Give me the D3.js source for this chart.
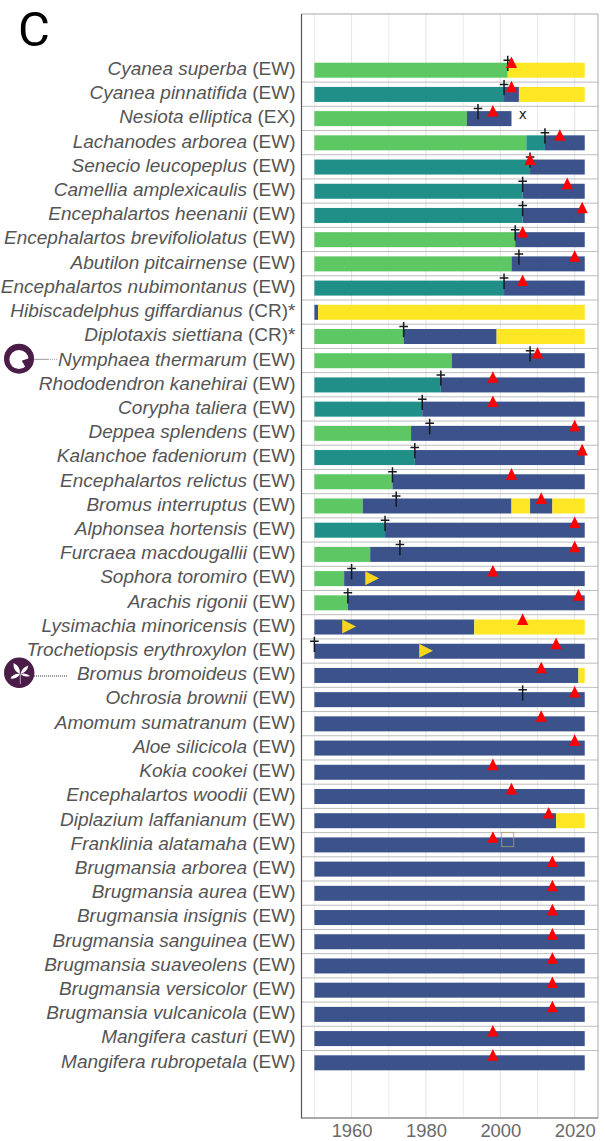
<!DOCTYPE html>
<html><head><meta charset="utf-8">
<script src="https://cdn.jsdelivr.net/npm/d3@7"></script>
<style>html,body{margin:0;padding:0;background:#fff}svg{display:block}</style></head>
<body><svg id="c" width="605" height="1141"></svg>
<script>
const species=["Cyanea superba","Cyanea pinnatifida","Nesiota elliptica","Lachanodes arborea","Senecio leucopeplus","Camellia amplexicaulis","Encephalartos heenanii","Encephalartos brevifoliolatus","Abutilon pitcairnense","Encephalartos nubimontanus","Hibiscadelphus giffardianus","Diplotaxis siettiana","Nymphaea thermarum","Rhododendron kanehirai","Corypha taliera","Deppea splendens","Kalanchoe fadeniorum","Encephalartos relictus","Bromus interruptus","Alphonsea hortensis","Furcraea macdougallii","Sophora toromiro","Arachis rigonii","Lysimachia minoricensis","Trochetiopsis erythroxylon","Bromus bromoideus","Ochrosia brownii","Amomum sumatranum","Aloe silicicola","Kokia cookei","Encephalartos woodii","Diplazium laffanianum","Franklinia alatamaha","Brugmansia arborea","Brugmansia aurea","Brugmansia insignis","Brugmansia sanguinea","Brugmansia suaveolens","Brugmansia versicolor","Brugmansia vulcanicola","Mangifera casturi","Mangifera rubropetala"];
const status=["(EW)","(EW)","(EX)","(EW)","(EW)","(EW)","(EW)","(EW)","(EW)","(EW)","(CR)*","(CR)*","(EW)","(EW)","(EW)","(EW)","(EW)","(EW)","(EW)","(EW)","(EW)","(EW)","(EW)","(EW)","(EW)","(EW)","(EW)","(EW)","(EW)","(EW)","(EW)","(EW)","(EW)","(EW)","(EW)","(EW)","(EW)","(EW)","(EW)","(EW)","(EW)","(EW)"];
// state codes and the year each state ends, per species
const G="g",T="t",B="b",Y="y",END=2022.7;
const segments=[[[G,2002],[Y,END]],[[T,2001],[B,2005],[Y,END]],[[G,1991],[B,2003]],[[G,2007],[T,2012],[B,END]],[[T,2008],[B,END]],[[T,2006],[B,END]],[[T,2006],[B,END]],[[G,2004],[B,END]],[[G,2003],[B,END]],[[T,2001],[B,END]],[[B,1951],[Y,END]],[[G,1974],[B,1999],[Y,END]],[[G,1987],[B,END]],[[T,1984],[B,END]],[[T,1979],[B,END]],[[G,1976],[B,END]],[[T,1977],[B,END]],[[G,1971],[B,END]],[[G,1963],[B,2003],[Y,2008],[B,2014],[Y,END]],[[T,1969],[B,END]],[[G,1965],[B,END]],[[G,1958],[B,END]],[[G,1959],[B,END]],[[B,1993],[Y,END]],[[B,END]],[[B,2021],[Y,END]],[[B,END]],[[B,END]],[[B,END]],[[B,END]],[[B,END]],[[B,2015],[Y,END]],[[B,END]],[[B,END]],[[B,END]],[[B,END]],[[B,END]],[[B,END]],[[B,END]],[[B,END]],[[B,END]],[[B,END]]];
const crossYears=[2002,2001,1994,2012,2008,2006,2006,2004,2005,2001,null,1974,2008,1984,1979,1981,1977,1971,1972,1969,1973,1960,1959,null,1950,null,2006,null,null,null,null,null,null,null,null,null,null,null,null,null,null,null];
const triangleYears=[2003,2003,1998,2016,2008,2018,2022,2006,2020,2006,null,null,2010,1998,1998,2020,2022,2003,2011,2020,2020,1998,2021,2006,2015,2011,2020,2011,2020,1998,2003,2013,1998,2014,2014,2014,2014,2014,2014,2014,1998,1998];
const arrows=[["Sophora toromiro",1965.5],["Lysimachia minoricensis",1959.3],["Trochetiopsis erythroxylon",1980]];
const extinctMark=[["Nesiota elliptica",2006]];
const squareMark=[["Franklinia alatamaha",2002]];
const tickYears=[1960,1980,2000,2020];
const gridYears=[1950,1960,1970,1980,1990,2000,2010,2020];
const colours={g:"#5DC863",t:"#1F8F88",b:"#3B528B",y:"#FDE725"};

const svg=d3.select("#c");
const L=301.5,R=598,TOP=14,BOT=1118;
const x=d3.scaleLinear().domain([1950,2020]).range([314.4,574.7]);
const y=d3.scalePoint().domain(species).range([70.2,1062.8]);
const barH=15;

svg.append("g").selectAll("line").data(gridYears).join("line")
 .attr("x1",d=>x(d)).attr("x2",d=>x(d)).attr("y1",TOP).attr("y2",BOT)
 .attr("stroke",d=>d%20===0?"#e2e2e2":"#ebebeb").attr("stroke-width",1);
svg.append("g").selectAll("line").data(species.slice(0,-1)).join("line")
 .attr("x1",L).attr("x2",R).attr("y1",d=>y(d)+11.9).attr("y2",d=>y(d)+11.9)
 .attr("stroke","#bdbdbd").attr("stroke-width",1);

const flat=[];
species.forEach((s,i)=>{let st=1950;segments[i].forEach(([c,e])=>{flat.push({s,c,st,e});st=e;});});
svg.append("g").selectAll("rect").data(flat).join("rect")
 .attr("x",d=>x(d.st)).attr("width",d=>x(d.e)-x(d.st))
 .attr("y",d=>y(d.s)-barH/2).attr("height",barH)
 .attr("fill",d=>colours[d.c]);

// square mark
svg.append("g").selectAll("rect").data(squareMark).join("rect")
 .attr("x",d=>x(d[1])-6).attr("width",12).attr("y",d=>y(d[0])-12.6).attr("height",14.4)
 .attr("fill","none").attr("stroke","#a8a46a").attr("stroke-width",0.8);

// crosses
const cr=species.map((s,i)=>({s,v:crossYears[i]})).filter(d=>d.v!==null);
const cg=svg.append("g").attr("stroke","#151a20").attr("fill","none");
cg.selectAll("path").data(cr).join("path")
 .attr("d",d=>{const X=x(d.v),Y0=y(d.s);return `M${X},${Y0-14.5}V${Y0+0.8}M${X-4.3},${Y0-10}H${X+4.3}`;})
 .attr("stroke-width",1.5);

// triangles
const tr=species.map((s,i)=>({s,v:triangleYears[i]})).filter(d=>d.v!==null);
svg.append("g").selectAll("path").data(tr).join("path")
 .attr("d",d=>{const X=x(d.v),C=y(d.s)-7.7;return `M${X},${C-6}L${X+5.6},${C+5.6}H${X-5.6}Z`;})
 .attr("fill","#FF0000");

// arrows
svg.append("g").selectAll("path").data(arrows).join("path")
 .attr("d",d=>{const X=x(d[1]),C=y(d[0])-0.4;return `M${X-6.8},${C-7}L${X+7},${C}L${X-6.8},${C+7}Z`;})
 .attr("fill","#F6D51F");

svg.append("g").selectAll("text").data(extinctMark).join("text")
 .attr("x",d=>x(d[1])).attr("y",d=>y(d[0])).attr("text-anchor","middle")
 .attr("font-family","'DejaVu Sans'").attr("font-size",13.5).attr("fill","#222").text("x");

// panel border
svg.append("path").attr("d",`M${L},${TOP}H${R}V${BOT}`).attr("fill","none").attr("stroke","#a8a8a8").attr("stroke-width",1);
svg.append("path").attr("d",`M${L},${TOP}V${BOT}H${R}`).attr("fill","none").attr("stroke","#555").attr("stroke-width",1.2);

// x axis
const ax=svg.append("g").attr("transform",`translate(0,${BOT})`)
 .call(d3.axisBottom(x).tickValues(tickYears).tickFormat(d3.format("d")).tickSize(0).tickPadding(6));
ax.select(".domain").remove();
ax.selectAll("text").attr("font-family","'Liberation Sans'").attr("font-size",18.4).attr("fill","#6a6a6a");

// labels
const lab=svg.append("g").attr("font-family","'Liberation Sans'").attr("font-size",19).attr("fill","#555").attr("text-anchor","end");
species.forEach((s,i)=>{
 const t=lab.append("text").attr("x",295.5).attr("y",y(s)+4.8);
 t.append("tspan").attr("font-style","italic").text(s);
 t.append("tspan").text(" "+status[i]);
});

svg.append("text").attr("x",18).attr("y",45.5).attr("font-family","Roboto").attr("font-weight",400).attr("font-size",49).attr("fill","#000").text("C");

// icons and leaders
const P="#4a1c47";
svg.append("line").attr("x1",34).attr("x2",48).attr("y1",359.3).attr("y2",359.3).attr("stroke","#999").attr("stroke-width",1);
svg.append("line").attr("x1",48).attr("x2",57).attr("y1",359.3).attr("y2",359.3).attr("stroke","#999").attr("stroke-width",1).attr("stroke-dasharray","1 1");
svg.append("circle").attr("cx",19).attr("cy",358.7).attr("r",15).attr("fill",P);
svg.append("circle").attr("cx",19).attr("cy",359.5).attr("r",9.6).attr("fill","#fff");
svg.append("path").attr("d","M21.7,360.7 L31,357.5 L31,367.5 L26,368Z").attr("fill",P);
svg.append("line").attr("x1",34).attr("x2",67).attr("y1",676).attr("y2",676).attr("stroke","#333").attr("stroke-width",1).attr("stroke-dasharray","1 1");
svg.append("circle").attr("cx",19.2).attr("cy",672.7).attr("r",15.2).attr("fill",P);
const petal=(a,b,w)=>{const dx=b[0]-a[0],dy=b[1]-a[1],l=Math.hypot(dx,dy),nx=-dy/l*w,ny=dx/l*w,mx=(a[0]+b[0])/2,my=(a[1]+b[1])/2;
 return `M${a[0]},${a[1]}Q${mx+nx},${my+ny} ${b[0]},${b[1]}Q${mx-nx},${my-ny} ${a[0]},${a[1]}Z`;};
const fg=svg.append("g").attr("fill","#fff");
[[[20,674],[13.5,663],4.5],[[20.5,674],[28.5,665.5],3.5],[[20,674],[10.5,678.5],3.5],[[20.5,674],[30,676],2.8]].forEach(([a,b,w])=>fg.append("path").attr("d",petal(a,b,w)));
svg.append("line").attr("x1",20.3).attr("x2",20.3).attr("y1",674).attr("y2",684).attr("stroke","#c9b9c8").attr("stroke-width",0.9);
</script></body></html>
